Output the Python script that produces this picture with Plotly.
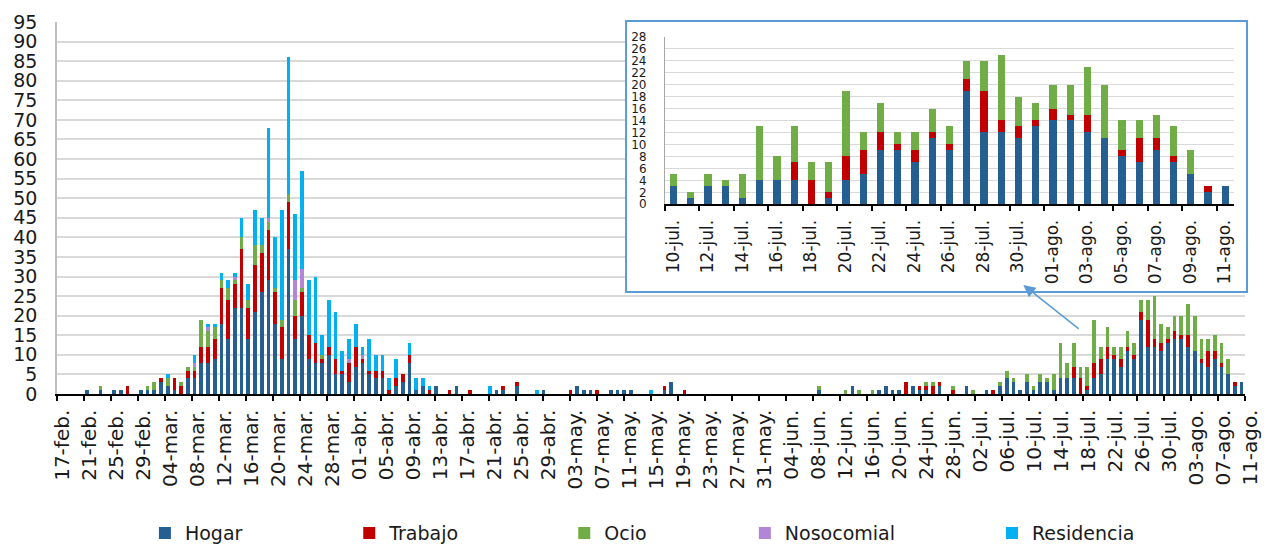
import plotly.graph_objects as go

# ---------------- data (daily, 17-feb .. 11-ago) ----------------
hogar = [
    0, 0, 0, 0, 1, 0, 1, 0, 1, 1,
    0, 0, 1, 1, 1, 3, 2, 1, 0, 4,
    4, 8, 8, 9, 18, 14, 22, 22, 14, 21,
    26, 29, 18, 9, 37, 14, 20, 9, 8, 8,
    10, 5, 5, 3, 7, 8, 5, 4, 4, 0,
    2, 3, 8, 1, 2, 0, 2, 0, 0, 2,
    0, 0, 0, 0, 0, 1, 1, 0, 2, 0,
    0, 0, 1, 0, 0, 0, 0, 2, 1, 1,
    0, 0, 1, 1, 1, 1, 0, 0, 0, 0,
    1, 3, 0, 0, 0, 0, 0, 0, 0, 0,
    0, 0, 0, 0, 0, 0, 0, 0, 0, 0,
    0, 0, 0, 1, 0, 0, 0, 0, 2, 0,
    0, 0, 1, 2, 1, 1, 0, 2, 1, 1,
    0, 2, 0, 0, 0, 2, 0, 0, 1, 0,
    2, 4, 3, 1, 3, 1, 3, 3, 1, 4,
    4, 4, 0, 1, 4, 5, 9, 9, 7, 11,
    9, 19, 12, 12, 11, 13, 14, 14, 12, 11,
    8, 7, 9, 7, 5, 2, 3,
]
trabajo = [
    0, 0, 0, 0, 0, 0, 0, 0, 0, 0,
    2, 0, 0, 0, 0, 1, 0, 3, 2, 2,
    2, 4, 4, 5, 9, 10, 6, 15, 8, 12,
    10, 13, 8, 8, 12, 6, 6, 6, 5, 1,
    2, 4, 1, 5, 5, 1, 1, 2, 2, 1,
    2, 2, 2, 0, 0, 1, 0, 0, 1, 0,
    0, 1, 0, 0, 0, 0, 1, 0, 1, 0,
    0, 0, 0, 0, 0, 0, 1, 0, 0, 0,
    1, 0, 0, 0, 0, 0, 0, 0, 0, 0,
    1, 0, 0, 1, 0, 0, 0, 0, 0, 0,
    0, 0, 0, 0, 0, 0, 0, 0, 0, 0,
    0, 0, 0, 0, 0, 0, 0, 0, 0, 0,
    0, 0, 0, 0, 0, 0, 3, 0, 1, 1,
    2, 1, 0, 1, 0, 0, 0, 0, 0, 1,
    0, 0, 0, 0, 0, 0, 0, 0, 0, 0,
    0, 3, 4, 1, 4, 4, 3, 1, 2, 1,
    1, 2, 7, 2, 2, 1, 2, 1, 3, 0,
    1, 4, 2, 1, 0, 1, 0,
]
ocio = [
    0, 0, 0, 0, 0, 0, 1, 0, 0, 0,
    0, 0, 0, 1, 2, 0, 2, 0, 1, 1,
    1, 7, 4, 3, 2, 3, 1, 3, 2, 5,
    2, 2, 1, 2, 2, 4, 1, 0, 0, 1,
    0, 0, 0, 0, 0, 0, 0, 0, 0, 0,
    0, 0, 0, 0, 0, 0, 0, 0, 0, 0,
    0, 0, 0, 0, 0, 0, 0, 0, 0, 0,
    0, 0, 0, 0, 0, 0, 0, 0, 0, 0,
    0, 0, 0, 0, 0, 0, 0, 0, 0, 0,
    0, 0, 0, 0, 0, 0, 0, 0, 0, 0,
    0, 0, 0, 0, 0, 0, 0, 0, 0, 0,
    0, 0, 0, 1, 0, 0, 0, 1, 0, 1,
    0, 1, 0, 0, 0, 0, 0, 0, 0, 1,
    1, 0, 0, 1, 0, 0, 1, 0, 0, 0,
    1, 2, 1, 0, 2, 1, 2, 1, 4, 9,
    4, 6, 3, 5, 11, 3, 5, 2, 3, 4,
    3, 3, 5, 11, 5, 3, 4, 5, 8, 9,
    5, 3, 4, 5, 4, 0, 0,
]
nosocomial = [
    0, 0, 0, 0, 0, 0, 0, 0, 0, 0,
    0, 0, 0, 0, 0, 0, 0, 0, 0, 0,
    1, 0, 1, 0, 0, 0, 1, 0, 0, 0,
    0, 1, 0, 0, 0, 5, 5, 0, 0, 0,
    0, 0, 0, 1, 0, 1, 0, 0, 0, 0,
    0, 0, 0, 0, 0, 0, 0, 0, 0, 0,
    0, 0, 0, 0, 0, 0, 0, 0, 0, 0,
    0, 0, 0, 0, 0, 0, 0, 0, 0, 0,
    0, 0, 0, 0, 0, 0, 0, 0, 0, 0,
    0, 0, 0, 0, 0, 0, 0, 0, 0, 0,
    0, 0, 0, 0, 0, 0, 0, 0, 0, 0,
    0, 0, 0, 0, 0, 0, 0, 0, 0, 0,
    0, 0, 0, 0, 0, 0, 0, 0, 0, 0,
    0, 0, 0, 0, 0, 0, 0, 0, 0, 0,
    0, 0, 0, 0, 0, 0, 0, 0, 0, 0,
    0, 0, 0, 0, 0, 0, 0, 0, 0, 0,
    0, 0, 0, 0, 0, 0, 0, 0, 0, 0,
    0, 0, 0, 0, 0, 0, 0,
]
residencia = [
    0, 0, 0, 0, 0, 0, 0, 0, 0, 0,
    0, 0, 0, 0, 0, 0, 1, 0, 0, 0,
    2, 0, 1, 1, 2, 2, 1, 5, 4, 9,
    7, 23, 13, 28, 35, 17, 25, 14, 17, 5,
    12, 12, 5, 5, 6, 2, 8, 4, 4, 3,
    5, 0, 3, 3, 2, 1, 0, 0, 0, 0,
    0, 0, 0, 0, 2, 0, 0, 0, 0, 0,
    0, 1, 0, 0, 0, 0, 0, 0, 0, 0,
    0, 0, 0, 0, 0, 0, 0, 0, 1, 0,
    0, 0, 0, 0, 0, 0, 0, 0, 0, 0,
    0, 0, 0, 0, 0, 0, 0, 0, 0, 0,
    0, 0, 0, 0, 0, 0, 0, 0, 0, 0,
    0, 0, 0, 0, 0, 0, 0, 0, 0, 0,
    0, 0, 0, 0, 0, 0, 0, 0, 0, 0,
    0, 0, 0, 0, 0, 0, 0, 0, 0, 0,
    0, 0, 0, 0, 0, 0, 0, 0, 0, 0,
    0, 0, 0, 0, 0, 0, 0, 0, 0, 0,
    0, 0, 0, 0, 0, 0, 0,
]

main_tick_labels = [
    "17-feb.", "21-feb.", "25-feb.", "29-feb.", "04-mar.", "08-mar.", "12-mar.",
    "16-mar.", "20-mar.", "24-mar.", "28-mar.", "01-abr.", "05-abr.", "09-abr.",
    "13-abr.", "17-abr.", "21-abr.", "25-abr.", "29-abr.", "03-may.", "07-may.",
    "11-may.", "15-may.", "19-may.", "23-may.", "27-may.", "31-may.", "04-jun.",
    "08-jun.", "12-jun.", "16-jun.", "20-jun.", "24-jun.", "28-jun.", "02-jul.",
    "06-jul.", "10-jul.", "14-jul.", "18-jul.", "22-jul.", "26-jul.", "30-jul.",
    "03-ago.", "07-ago.", "11-ago.",
]
inset_tick_labels = [
    "10-jul.", "12-jul.", "14-jul.", "16-jul.", "18-jul.", "20-jul.", "22-jul.",
    "24-jul.", "26-jul.", "28-jul.", "30-jul.", "01-ago.", "03-ago.", "05-ago.",
    "07-ago.", "09-ago.", "11-ago.",
]
inset_start = 144  # index of 10-jul in the daily series

series_names = ["Hogar", "Trabajo", "Ocio", "Nosocomial", "Residencia"]
series_values = [hogar, trabajo, ocio, nosocomial, residencia]
colors = ["#255E91", "#C00000", "#70AD47", "#B286D6", "#00B0F0"]

# ---------------- figure ----------------
FONT = "DejaVu Sans"
TXT = "#1a1a1a"
n_days = len(hogar)
days = list(range(n_days))
inset_days = list(range(n_days - inset_start))

fig = go.Figure()

legend_ids = ["legend", "legend2", "legend3", "legend4", "legend5"]
for name, vals, col, lg in zip(series_names, series_values, colors, legend_ids):
    fig.add_trace(go.Bar(
        x=days, y=vals, name=name, marker=dict(color=col, line=dict(width=0)),
        width=0.55, xaxis="x", yaxis="y", legend=lg, hoverinfo="x+y+name",
    ))

for name, vals, col in zip(series_names[:3], series_values[:3], colors[:3]):
    fig.add_trace(go.Bar(
        x=inset_days, y=vals[inset_start:], name=name,
        marker=dict(color=col, line=dict(width=0)),
        width=0.42, xaxis="x2", yaxis="y2", showlegend=False,
    ))

n_int = len(main_tick_labels) - 1
main_tickvals = [-0.5 + i * n_days / n_int for i in range(len(main_tick_labels))]
inset_tickvals = [2 * i - 0.5 for i in range(len(inset_tick_labels))]

# inset box in paper coordinates
box_x0, box_x1, box_y0, box_y1 = 0.479, 1.0017, 0.2742, 1.0027
ymax_main = 95

legend_x = [0.074, 0.246, 0.427, 0.579, 0.787]
legends = {}
for lg, lx in zip(legend_ids, legend_x):
    legends[lg] = dict(
        orientation="h", x=lx, xanchor="left", y=-0.374, yanchor="middle",
        font=dict(family=FONT, size=19, color=TXT),
        bgcolor="rgba(0,0,0,0)", borderwidth=0,
    )

fig.update_layout(
    width=1273, height=544,
    margin=dict(l=57, r=28, t=22, b=150, autoexpand=False),
    paper_bgcolor="white", plot_bgcolor="white",
    barmode="stack",
    font=dict(family=FONT, color=TXT),
    xaxis=dict(
        range=[-0.5, n_days - 0.5], tickmode="array", tickvals=main_tickvals,
        ticktext=main_tick_labels, tickangle=-90, ticks="outside", ticklen=5,
        tickwidth=1.5, tickcolor="#000000", showline=True, linecolor="#000000",
        linewidth=1.5, showgrid=False, zeroline=False, ticklabelshift=5,
        ticklabelstandoff=1, tickfont=dict(family=FONT, size=20, color=TXT),
        domain=[0, 1], anchor="y", automargin=False,
    ),
    yaxis=dict(
        range=[0, ymax_main], dtick=5, tick0=0, showgrid=True, gridcolor="#D9D9D9",
        gridwidth=1.5, showline=True, linecolor="#BFBFBF", linewidth=1.5,
        zeroline=False, ticks="", ticklabelstandoff=14,
        tickfont=dict(family=FONT, size=19, color=TXT), domain=[0, 1],
        anchor="x", automargin=False,
    ),
    xaxis2=dict(
        domain=[0.5118, 0.9907], anchor="y2",
        range=[-0.5, n_days - inset_start - 0.5], tickmode="array",
        tickvals=inset_tickvals, ticktext=inset_tick_labels, tickangle=-90,
        ticks="outside", ticklen=5, tickwidth=1.5, tickcolor="#000000",
        showline=True, linecolor="#000000", linewidth=1.5, showgrid=False,
        zeroline=False, ticklabelshift=8, ticklabelstandoff=2,
        tickfont=dict(family=FONT, size=17, color=TXT), automargin=False,
    ),
    yaxis2=dict(
        domain=[0.510, 0.9605], anchor="x2", range=[0, 28], dtick=2, tick0=0,
        showgrid=True, gridcolor="#D9D9D9", gridwidth=1.2, showline=True,
        linecolor="#A6A6A6", linewidth=1.2, zeroline=False, ticks="",
        ticklabelstandoff=15, automargin=False,
        tickfont=dict(family=FONT, size=12, color=TXT),
    ),
    showlegend=True,
    **legends,
)

# white background of the inset (between main gridlines and traces)
fig.add_shape(
    type="rect", xref="x", yref="y", layer="between",
    x0=-0.5 + box_x0 * n_days, x1=-0.5 + 1.2 * n_days,
    y0=box_y0 * ymax_main, y1=1.2 * ymax_main,
    fillcolor="white", line=dict(width=0),
)
# inset border
fig.add_shape(
    type="rect", xref="paper", yref="paper", layer="above",
    x0=box_x0, x1=box_x1, y0=box_y0, y1=box_y1,
    fillcolor="rgba(0,0,0,0)", line=dict(color="#5B9BD5", width=2),
)
# arrow from the zoomed period to the inset
fig.add_annotation(
    xref="paper", yref="paper", x=0.8134, y=0.293, ax=57, ay=45,
    axref="pixel", ayref="pixel", text="", showarrow=True,
    arrowhead=2, arrowsize=1.6, arrowwidth=1.5, arrowcolor="#5B9BD5",
)

fig.write_html(
    "out.html",
    config={"displayModeBar": False},
    post_script="document.body.style.margin='0';document.body.style.overflow='hidden';",
)
